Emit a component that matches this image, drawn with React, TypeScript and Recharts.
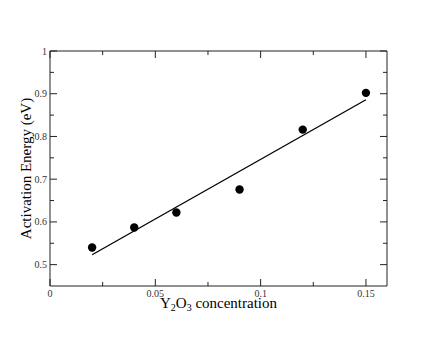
import { ComposedChart, XAxis, YAxis, Scatter, Line, Label } from 'recharts';

// measured points
const concentration = [0.02, 0.04, 0.06, 0.09, 0.12, 0.15];
const activationEnergy = [0.54, 0.587, 0.622, 0.676, 0.816, 0.902];

// linear fit, end points
const fitX = [0.02, 0.15];
const fitY = [0.523, 0.886];

const xMajor = [0, 0.05, 0.1, 0.15];
const xMinor = [0.025, 0.075, 0.125];
const yMajor = [0.5, 0.6, 0.7, 0.8, 0.9, 1];
const yMinor = [0.55, 0.65, 0.75, 0.85, 0.95];

const points = concentration.map((c, i) => ({ x: c, y: activationEnergy[i] }));
const fitLine = fitX.map((x, i) => ({ x, y: fitY[i] }));

const FONT = "'Liberation Serif', 'Times New Roman', serif";
const AXIS = '#222';

const isMajor = (v: number, majors: number[]) => majors.some(m => Math.abs(m - v) < 1e-9);

const fmt = (v: number) => String(Number(v.toFixed(3)));

// ticks drawn inward, labels outside
const makeTick = (side: 'bottom' | 'top' | 'left' | 'right', majors: number[]) => (props: any) => {
  const { x, y, payload } = props;
  const major = isMajor(payload.value, majors);
  const len = major ? 7 : 4;
  if (side === 'bottom') {
    return (
      <g>
        <line x1={x} y1={y} x2={x} y2={y - len} stroke={AXIS} />
        {major && (
          <text x={x} y={y + 11} textAnchor="middle" fontSize={10} style={{ fontFamily: FONT }} fill="#333">
            {fmt(payload.value)}
          </text>
        )}
      </g>
    );
  }
  if (side === 'top') {
    return <line x1={x} y1={y} x2={x} y2={y + len} stroke={AXIS} />;
  }
  if (side === 'left') {
    return (
      <g>
        <line x1={x} y1={y} x2={x + len} y2={y} stroke={AXIS} />
        {major && (
          <text x={x - 3} y={y + 3.5} textAnchor="end" fontSize={10} style={{ fontFamily: FONT }} fill="#333">
            {fmt(payload.value)}
          </text>
        )}
      </g>
    );
  }
  return <line x1={x} y1={y} x2={x - len} y2={y} stroke={AXIS} />;
};

const Dot = (props: any) => <circle cx={props.cx} cy={props.cy} r={4.2} fill="#000" />;

// axis titles, placed by the plot box (50..387, 51..286)
const XTitle = () => (
  <text x={218.5} y={308} textAnchor="middle" fontSize={15} style={{ fontFamily: FONT }} fill="#000">
    Y<tspan fontSize={10} dy={3}>2</tspan>
    <tspan dy={-3}>O</tspan>
    <tspan fontSize={10} dy={3}>3</tspan>
    <tspan dy={-3}> concentration</tspan>
  </text>
);

const YTitle = () => {
  const tx = 31;
  const cy = 168.5;
  return (
    <text
      x={tx}
      y={cy}
      transform={`rotate(-90, ${tx}, ${cy})`}
      textAnchor="middle"
      fontSize={15}
      style={{ fontFamily: FONT }}
      fill="#000"
    >
      Activation Energy (eV)
    </text>
  );
};

export default function App() {
  const xTicks = [...xMajor, ...xMinor].sort((a, b) => a - b);
  const yTicks = [...yMajor, ...yMinor].sort((a, b) => a - b);
  return (
    <div style={{ position: 'absolute', left: 0, top: 0, background: '#fff' }}>
      <ComposedChart width={436} height={337} margin={{ top: 50, right: 48, bottom: 0, left: 0 }}>
        <XAxis
          xAxisId="b"
          type="number"
          dataKey="x"
          domain={[0, 0.16]}
          ticks={xTicks}
          interval={0}
          tickSize={0}
          tickMargin={0}
          height={51}
          stroke={AXIS}
          tick={makeTick('bottom', xMajor)}
          allowDataOverflow
        >
          <Label content={XTitle} />
        </XAxis>
        <XAxis
          xAxisId="t"
          orientation="top"
          type="number"
          dataKey="x"
          domain={[0, 0.16]}
          ticks={xTicks}
          interval={0}
          tickSize={0}
          tickMargin={0}
          height={1}
          stroke={AXIS}
          tick={makeTick('top', xMajor)}
          allowDataOverflow
        />
        <YAxis
          yAxisId="l"
          type="number"
          dataKey="y"
          domain={[0.45, 1]}
          ticks={yTicks}
          interval={0}
          tickSize={0}
          tickMargin={0}
          width={50}
          stroke={AXIS}
          tick={makeTick('left', yMajor)}
          allowDataOverflow
        >
          <Label content={YTitle} />
        </YAxis>
        <YAxis
          yAxisId="r"
          orientation="right"
          type="number"
          dataKey="y"
          domain={[0.45, 1]}
          ticks={yTicks}
          interval={0}
          tickSize={0}
          tickMargin={0}
          width={1}
          stroke={AXIS}
          tick={makeTick('right', yMajor)}
          allowDataOverflow
        />
        <Line
          xAxisId="b"
          yAxisId="l"
          data={fitLine}
          dataKey="y"
          type="linear"
          stroke="#000"
          strokeWidth={1.3}
          dot={false}
          activeDot={false}
          isAnimationActive={false}
        />
        <Scatter
          xAxisId="b"
          yAxisId="l"
          data={points}
          dataKey="y"
          shape={Dot}
          isAnimationActive={false}
        />
      </ComposedChart>
    </div>
  );
}
